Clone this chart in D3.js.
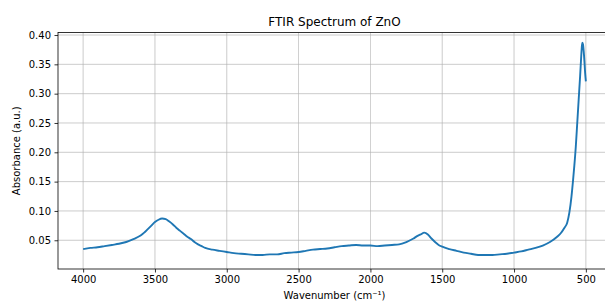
<!DOCTYPE html>
<html>
<head>
<meta charset="utf-8">
<script src="https://cdn.jsdelivr.net/npm/d3@7"></script>
<style>
    body { margin: 0; background: #fff; }
    svg { display: block; font-family: 'DejaVu Sans', sans-serif; }
</style>
</head>
<body>
<svg id="chart" width="605" height="302"></svg>
<script>
// values (wavenumber in cm-1, absorbance in a.u.)
var wavenumbers = [4000, 3950, 3900, 3850, 3800, 3750, 3700, 3650, 3600, 3575, 3550, 3525, 3500, 3475, 3450, 3425,
    3400, 3375, 3350, 3325, 3300, 3275, 3250, 3225, 3200, 3175, 3150, 3100, 3050, 3000, 2950, 2900, 2850, 2800, 2750,
    2700, 2650, 2600, 2550, 2500, 2450, 2400, 2350, 2300, 2250, 2200, 2150, 2100, 2050, 2000, 1950, 1900, 1850,
    1800, 1750, 1700, 1675, 1650, 1625, 1600, 1575, 1550, 1525, 1500, 1450, 1400, 1350, 1300, 1250, 1200, 1150,
    1100, 1050, 1000, 950, 900, 850, 800, 750, 700, 675, 650, 630, 615, 600, 590, 580, 570, 560, 550, 540, 532,
    527, 524, 520, 515, 510, 505, 500];
var absorbance = [0.035, 0.037, 0.038, 0.040, 0.042, 0.044, 0.047, 0.052, 0.058, 0.063, 0.069, 0.075, 0.081, 0.085,
    0.087, 0.086, 0.082, 0.077, 0.071, 0.066, 0.061, 0.056, 0.052, 0.047, 0.043, 0.040, 0.037, 0.034, 0.032, 0.030,
    0.028, 0.027, 0.026, 0.025, 0.025, 0.026, 0.026, 0.028, 0.029, 0.030, 0.032, 0.034, 0.035, 0.036, 0.038, 0.040,
    0.041, 0.042, 0.041, 0.041, 0.040, 0.041, 0.042, 0.043, 0.047, 0.053, 0.057, 0.060, 0.063, 0.060, 0.053, 0.047,
    0.042, 0.039, 0.035, 0.032, 0.029, 0.027, 0.025, 0.025, 0.025, 0.026, 0.027, 0.029, 0.031, 0.034, 0.037, 0.041,
    0.047, 0.056, 0.062, 0.071, 0.080, 0.097, 0.125, 0.150, 0.178, 0.210, 0.250, 0.290, 0.330, 0.365, 0.383, 0.387,
    0.384, 0.372, 0.355, 0.335, 0.321];
var xTicks = [4000, 3500, 3000, 2500, 2000, 1500, 1000, 500];
var yTicks = [0.05, 0.10, 0.15, 0.20, 0.25, 0.30, 0.35, 0.40];

var margin = { top: 32.5, right: -6, bottom: 33, left: 58 },
    totalWidth = 605,
    totalHeight = 302,
    width = totalWidth - margin.left - margin.right,
    height = totalHeight - margin.top - margin.bottom;

var data = wavenumbers.map((w, i) => ({ w: w, a: absorbance[i] }));

var x = d3.scaleLinear().domain([4175, 325]).range([0, width]);
var y = d3.scaleLinear().domain([0.001, 0.4043]).range([height, 0]);

var svg = d3.select('#chart');
var chart = svg.append('g')
    .attr('transform', 'translate(' + margin.left + ',' + margin.top + ')');

// grid
chart.append('g')
    .selectAll('line')
    .data(xTicks)
    .join('line')
    .attr('x1', d => x(d)).attr('x2', d => x(d))
    .attr('y1', 0).attr('y2', height)
    .attr('stroke', '#b0b0b0').attr('stroke-width', 0.8).attr('opacity', 0.8);
chart.append('g')
    .selectAll('line')
    .data(yTicks)
    .join('line')
    .attr('x1', 0).attr('x2', width)
    .attr('y1', d => y(d)).attr('y2', d => y(d))
    .attr('stroke', '#b0b0b0').attr('stroke-width', 0.8).attr('opacity', 0.8);

// spectrum
var line = d3.line().x(d => x(d.w)).y(d => y(d.a)).curve(d3.curveMonotoneX);
chart.append('path')
    .datum(data)
    .attr('d', line)
    .attr('fill', 'none')
    .attr('stroke', '#1f77b4')
    .attr('stroke-width', 1.9)
    .attr('stroke-linejoin', 'round');

// axes
var xAxis = chart.append('g')
    .attr('transform', 'translate(0,' + height + ')')
    .call(d3.axisBottom(x).tickValues(xTicks).tickSize(3.5).tickPadding(3.5).tickFormat(d3.format('d')));
var yAxis = chart.append('g')
    .call(d3.axisLeft(y).tickValues(yTicks).tickSize(3.5).tickPadding(3.5).tickFormat(d3.format('.2f')));
[xAxis, yAxis].forEach(a => {
    a.select('.domain').remove();
    a.selectAll('line').attr('stroke', '#000').attr('stroke-width', 0.8);
    a.selectAll('text').attr('font-size', '10px').attr('fill', '#000')
        .attr('font-family', "'DejaVu Sans', sans-serif");
});

// frame
chart.append('rect')
    .attr('width', width).attr('height', height)
    .attr('fill', 'none').attr('stroke', '#000').attr('stroke-width', 0.8);

// labels
chart.append('text')
    .attr('x', width / 2).attr('y', -6.5)
    .attr('text-anchor', 'middle').attr('font-size', '12px')
    .text('FTIR Spectrum of ZnO');
chart.append('text')
    .attr('x', width / 2).attr('y', height + 30)
    .attr('text-anchor', 'middle').attr('font-size', '10px')
    .text('Wavenumber (cm\u207B\u00B9)');
chart.append('text')
    .attr('transform', 'translate(' + (-38) + ',' + (height / 2) + ') rotate(-90)')
    .attr('text-anchor', 'middle').attr('font-size', '10px')
    .text('Absorbance (a.u.)');
</script>
</body>
</html>
